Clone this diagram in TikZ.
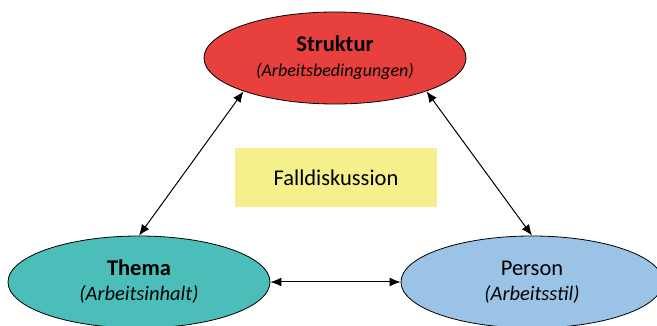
\documentclass[tikz,border=0pt]{standalone}
\usepackage{fontspec}
\setmainfont{Carlito}
\usetikzlibrary{shapes.geometric,arrows.meta}
\definecolor{redfill}{RGB}{232,64,60}
\definecolor{tealfill}{RGB}{75,190,186}
\definecolor{bluefill}{RGB}{155,195,230}
\definecolor{yellowfill}{RGB}{246,240,140}
\tikzset{
  oval/.style={ellipse, draw=black, line width=0.8pt, inner sep=0pt, align=center,
    minimum width=262pt, minimum height=92pt, font=\fontsize{22.5}{25}\selectfont},
  conn/.style={{Latex[length=11pt,width=9pt]}-{Latex[length=11pt,width=9pt]}, line width=1pt},
  centerbox/.style={fill=yellowfill, draw=none, minimum width=202pt, minimum height=59pt,
    inner sep=0pt, font=\fontsize{22.5}{25}\selectfont}
}
\begin{document}
\begin{tikzpicture}[x=1pt,y=-1pt]
\useasboundingbox (0,0) rectangle (657,326);
\clip (0,0) rectangle (657,326);
\fill[white] (0,0) rectangle (657,326);
\node[oval, fill=redfill] (s) at (335,58) {\textbf{Struktur}\\{\fontsize{18}{20}\selectfont\itshape (Arbeitsbedingungen)}};
\node[oval, fill=tealfill] (t) at (139,282) {\textbf{Thema}\\{\fontsize{20.5}{22}\selectfont\itshape (Arbeitsinhalt)}};
\node[oval, fill=bluefill] (p) at (532,282) {Person\\{\fontsize{20.5}{22}\selectfont\itshape (Arbeitsstil)}};
\node[centerbox] (f) at (336,178) {Falldiskussion};
\draw[conn] (s.200) -- (t.north);
\draw[conn] (s.340) -- (p.north);
\draw[conn] (t.east) -- (p.west);
\end{tikzpicture}
\end{document}
